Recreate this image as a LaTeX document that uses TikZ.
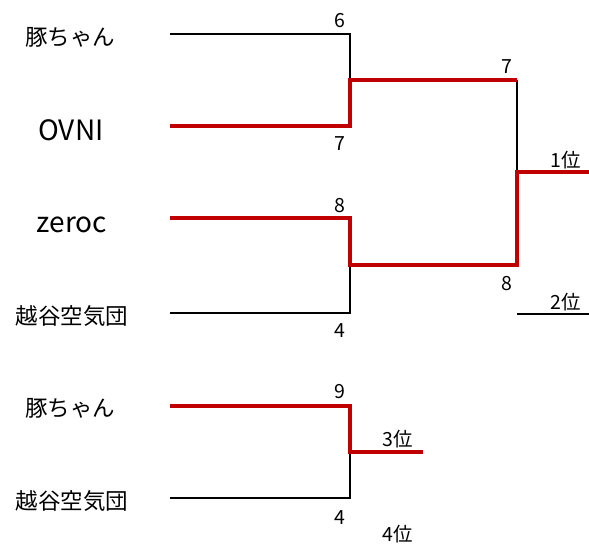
\documentclass[tikz,border=0pt]{standalone}
\usepackage{fontspec}
\setmainfont{Noto Sans CJK JP}
\definecolor{winred}{RGB}{192,0,0}
\begin{document}
\begin{tikzpicture}[x=1pt,y=-1pt,
    team/.style={font=\fontsize{22.5}{26}\selectfont, inner sep=0pt},
    bigteam/.style={font=\fontsize{28}{32}\selectfont, inner sep=0pt},
    score/.style={font=\fontsize{19.5}{23}\selectfont, inner sep=0pt},
    lose/.style={draw=black, line width=2.1pt},
    win/.style={draw=winred, line width=3.3pt}
  ]
  \useasboundingbox (0,0) rectangle (589,546);

  % teams
  \node[team] (buta) at (70,37) {豚ちゃん};
  \node[bigteam] (ovni) at (71,130) {OVNI};
  \node[bigteam] (zeroc) at (72,225) {zeroc};
  \node[team] (koshi) at (72,316) {越谷空気団};
  \node[team] (buta3) at (70,408) {豚ちゃん};
  \node[team] (koshi3) at (72,501) {越谷空気団};

  % bracket points
  \coordinate (a) at (170,34);   \coordinate (ar) at (350,34);
  \coordinate (b) at (170,126);  \coordinate (br) at (350,126);
  \coordinate (c) at (170,218);  \coordinate (cr) at (350,218);
  \coordinate (d) at (170,313);  \coordinate (dr) at (350,313);
  \coordinate (semi1) at (350,80);  \coordinate (fin1) at (517,80);
  \coordinate (semi2) at (350,265); \coordinate (fin2) at (517,265);
  \coordinate (final) at (517,172); \coordinate (first) at (589,172);
  \coordinate (two) at (517,314);   \coordinate (twor) at (589,314);
  \coordinate (e) at (170,406);  \coordinate (er) at (350,406);
  \coordinate (f) at (170,498);  \coordinate (fr) at (350,498);
  \coordinate (third) at (350,452); \coordinate (thirdr) at (423,452);

  % losers
  \draw[lose] (a) -- (ar) -- (semi1);
  \draw[lose] (d) -- (dr) -- (semi2);
  \draw[lose] (fin1) -- (final);
  \draw[lose] (two) -- (twor);
  \draw[lose] (f) -- (fr) -- (third);

  % winners
  \draw[win] (b) -- (br) -- (semi1) -- (fin1);
  \draw[win] (c) -- (cr) -- (semi2) -- (fin2) -- (final) -- (first);
  \draw[win] (e) -- (er) -- (third) -- (thirdr);

  % scores
  \node[score] (s1) at (340,21) {6};
  \node[score] (s2) at (340,144) {7};
  \node[score] (s3) at (340,206) {8};
  \node[score] (s4) at (340,331) {4};
  \node[score] (s5) at (507,67) {7};
  \node[score] (s6) at (507,284) {8};
  \node[score] (s7) at (340,392) {9};
  \node[score] (s8) at (340,518) {4};

  % places
  \node[score] (p1) at (566,160) {1位};
  \node[score] (p2) at (566,302) {2位};
  \node[score] (p3) at (398,439) {3位};
  \node[score] (p4) at (398,534) {4位};

\end{tikzpicture}
\end{document}
